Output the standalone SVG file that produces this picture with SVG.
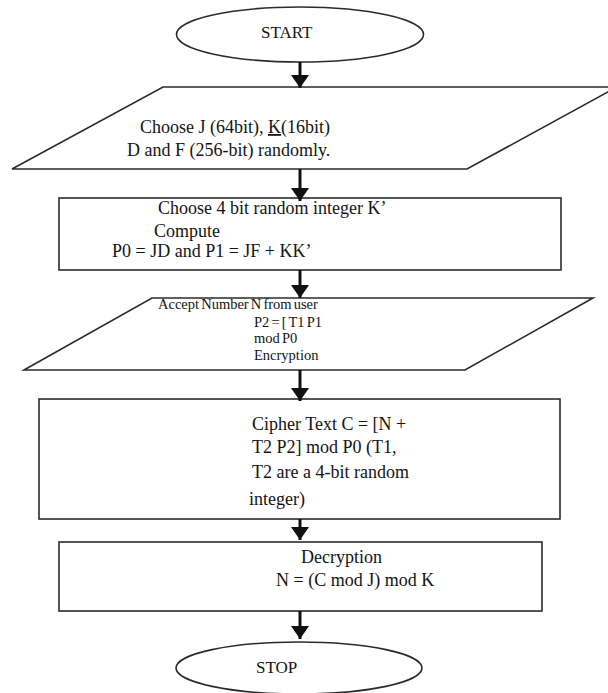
<svg xmlns="http://www.w3.org/2000/svg" width="608" height="693" viewBox="0 0 608 693">
<style>
.shape{fill:#fff;stroke:#2b2b2b;stroke-width:1.6}
.t{font-family:"Liberation Serif","Times New Roman",serif;font-size:18px;fill:#141414}
.s{font-size:14.5px;word-spacing:-1.5px}
.o{font-size:17px}
.conn line{stroke:#111;stroke-width:3}
</style>
<defs>
<marker id="ah" markerUnits="userSpaceOnUse" markerWidth="13" markerHeight="18" refX="13" refY="9" orient="auto">
<path d="M0,0 L13,9 L0,18 Z" fill="#111"/>
</marker>
</defs>
<rect width="608" height="693" fill="#fff"/>
<g id="start">
<ellipse class="shape" cx="300" cy="34.5" rx="123.5" ry="27.5"/>
<text class="t o" x="261" y="38">START</text>
</g>
<g id="choose-keys">
<polygon class="shape" points="163,87 617,87 467,169 12,169"/>
<text class="t" x="140" y="133">Choose J (64bit), <tspan text-decoration="underline">K</tspan>(16bit)</text>
<text class="t" x="127" y="156">D and F (256-bit) randomly.</text>
</g>
<g id="compute">
<rect class="shape" x="59" y="198" width="502" height="72"/>
<text class="t" x="158" y="214">Choose 4 bit random integer K’</text>
<text class="t" x="154" y="237">Compute</text>
<text class="t" x="112" y="257">P0 = JD and P1 = JF + KK’</text>
</g>
<g id="accept">
<polygon class="shape" points="152,298 593,298 465,370 24,370"/>
<text class="t s" x="158" y="309">Accept Number N from user</text>
<text class="t s" x="254" y="327">P2 = [ T1 P1</text>
<text class="t s" x="254" y="343">mod P0</text>
<text class="t s" x="254" y="360">Encryption</text>
</g>
<g id="cipher">
<rect class="shape" x="39" y="399" width="521" height="120"/>
<text class="t" x="252" y="430">Cipher Text C = [N +</text>
<text class="t" x="252" y="453">T2 P2] mod P0 (T1,</text>
<text class="t" x="252" y="478">T2 are a 4-bit random</text>
<text class="t" x="249" y="505">integer)</text>
</g>
<g id="decrypt">
<rect class="shape" x="59" y="542" width="483" height="69"/>
<text class="t" x="301" y="563">Decryption</text>
<text class="t" x="276" y="586">N = (C mod J) mod K</text>
</g>
<g id="stop">
<ellipse class="shape" cx="299" cy="668" rx="123" ry="26"/>
<text class="t o" x="256" y="673">STOP</text>
</g>
<g id="connectors" class="conn">
<line x1="300" y1="62" x2="300" y2="88" marker-end="url(#ah)"/>
<line x1="300" y1="169" x2="300" y2="201" marker-end="url(#ah)"/>
<line x1="300" y1="270" x2="300" y2="298" marker-end="url(#ah)"/>
<line x1="300" y1="370" x2="300" y2="401" marker-end="url(#ah)"/>
<line x1="300" y1="519" x2="300" y2="540" marker-end="url(#ah)"/>
<line x1="300" y1="611" x2="300" y2="639" marker-end="url(#ah)"/>
</g>
</svg>
